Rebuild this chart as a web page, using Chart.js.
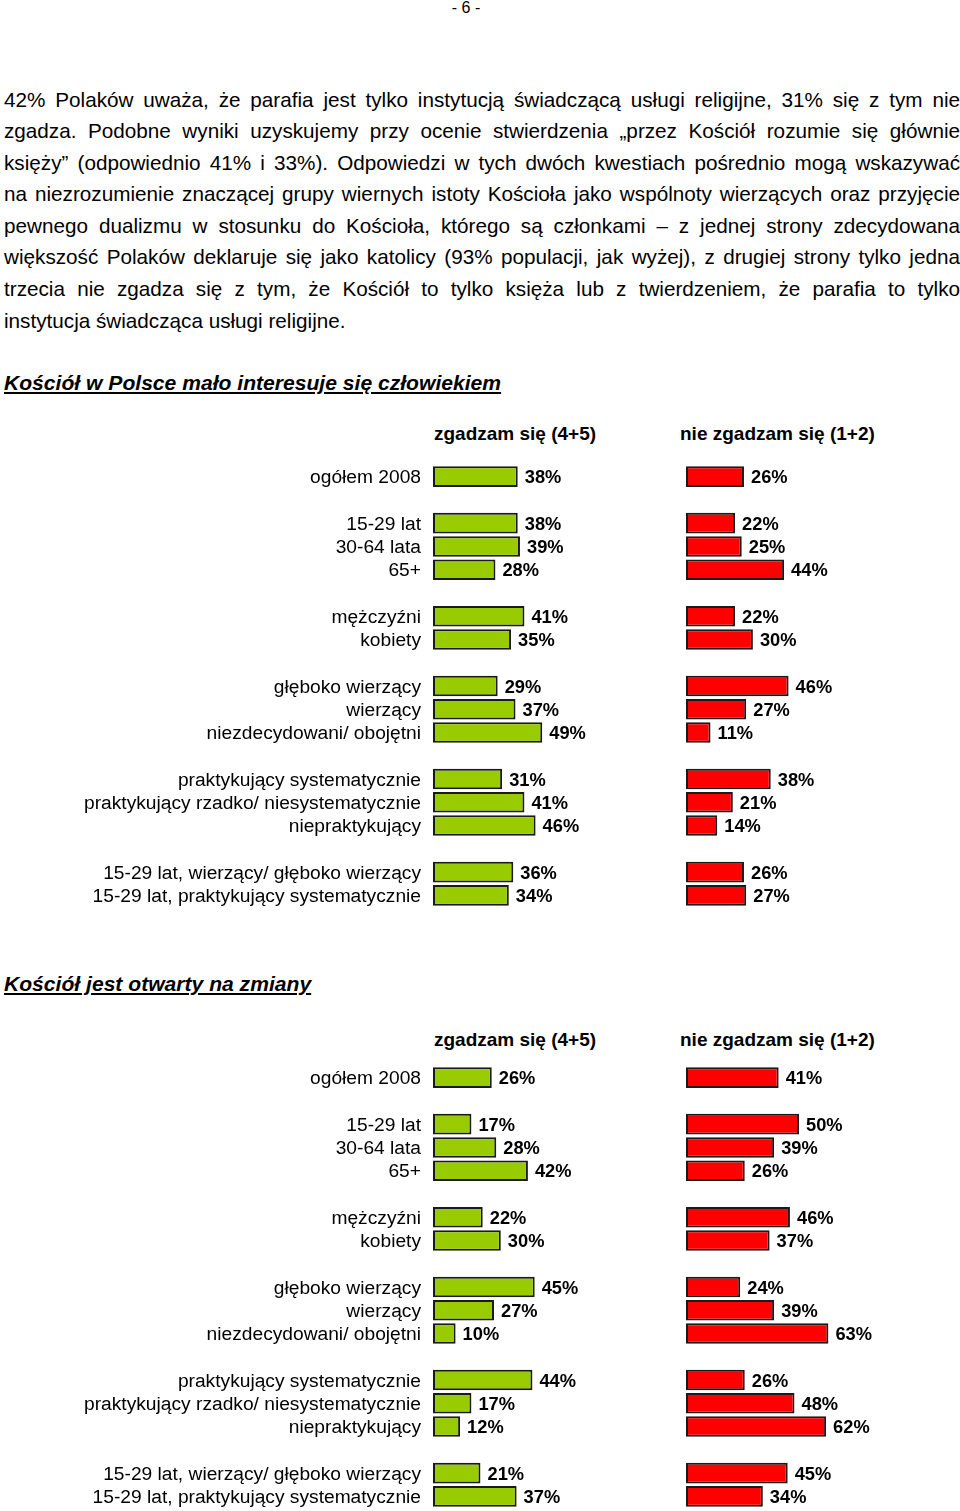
<!DOCTYPE html>
<html lang="pl">
<head>
<meta charset="utf-8">
<title>Kościół - wykresy</title>
<script src="https://cdn.jsdelivr.net/npm/chart.js@4"></script>
<style>
  body{margin:0;background:#fff;font-family:"Liberation Sans",Arial,sans-serif;color:#000}
  #page{position:relative;width:960px;height:1511px;overflow:hidden}
  .abs{position:absolute;white-space:nowrap;line-height:1}
  #pnum{left:0;width:932px;text-align:center;top:0;font-size:16px}
  #txt{position:absolute;left:4px;top:83.5px;width:956px;font-size:20.7px;line-height:31.6px}
  #txt div{white-space:nowrap;text-align:justify;text-align-last:justify}
  #txt div.last{text-align-last:left}
  .head{font-size:21.1px;font-weight:bold;font-style:italic;text-decoration:underline;left:4px}
  .col{font-size:19px;font-weight:bold}
  canvas{position:absolute}
</style>
</head>
<body>
<div id="page">
  <div id="pnum" class="abs">- 6 -</div>
  <div id="txt">
    <div>42% Polaków uważa, że parafia jest tylko instytucją świadczącą usługi religijne, 31% się z tym nie</div>
    <div>zgadza. Podobne wyniki uzyskujemy przy ocenie stwierdzenia „przez Kościół rozumie się głównie</div>
    <div>księży” (odpowiednio 41% i 33%). Odpowiedzi w tych dwóch kwestiach pośrednio mogą wskazywać</div>
    <div>na niezrozumienie znaczącej grupy wiernych istoty Kościoła jako wspólnoty wierzących oraz przyjęcie</div>
    <div>pewnego dualizmu w stosunku do Kościoła, którego są członkami – z jednej strony zdecydowana</div>
    <div>większość Polaków deklaruje się jako katolicy (93% populacji, jak wyżej), z drugiej strony tylko jedna</div>
    <div>trzecia nie zgadza się z tym, że Kościół to tylko księża lub z twierdzeniem, że parafia to tylko</div>
    <div class="last">instytucja świadcząca usługi religijne.</div>
  </div>

  <div class="abs head" style="top:372px">Kościół w Polsce mało interesuje się człowiekiem</div>
  <div class="abs col" style="left:434px;top:424px">zgadzam się (4+5)</div>
  <div class="abs col" style="left:680px;top:424px">nie zgadzam się (1+2)</div>
  <canvas id="c1a" width="680" height="442" style="left:0;top:465px"></canvas>
  <canvas id="c1b" width="274" height="442" style="left:686px;top:465px"></canvas>

  <div class="abs head" style="top:973px">Kościół jest otwarty na zmiany</div>
  <div class="abs col" style="left:434px;top:1030px">zgadzam się (4+5)</div>
  <div class="abs col" style="left:680px;top:1030px">nie zgadzam się (1+2)</div>
  <canvas id="c2a" width="680" height="442" style="left:0;top:1066px"></canvas>
  <canvas id="c2b" width="274" height="442" style="left:686px;top:1066px"></canvas>
</div>
<script>
// groups of rows, separated by an empty row
const groupSizes = [1, 3, 2, 3, 3, 2];
const categories = [
  'ogółem 2008',
  '15-29 lat', '30-64 lata', '65+',
  'mężczyźni', 'kobiety',
  'głęboko wierzący', 'wierzący', 'niezdecydowani/ obojętni',
  'praktykujący systematycznie', 'praktykujący rzadko/ niesystematycznie', 'niepraktykujący',
  '15-29 lat, wierzący/ głęboko wierzący', '15-29 lat, praktykujący systematycznie'
];

// Kościół w Polsce mało interesuje się człowiekiem
const interesAgree    = [38, 38, 39, 28, 41, 35, 29, 37, 49, 31, 41, 46, 36, 34];
const interesDisagree = [26, 22, 25, 44, 22, 30, 46, 27, 11, 38, 21, 14, 26, 27];

// Kościół jest otwarty na zmiany
const zmianyAgree    = [26, 17, 28, 42, 22, 30, 45, 27, 10, 44, 17, 12, 21, 37];
const zmianyDisagree = [41, 50, 39, 26, 46, 37, 24, 39, 63, 26, 48, 62, 45, 34];

const GREEN = '#99cc00', RED = '#ff0000', EDGE = '#1a1a1a';
const FONT = '"Liberation Sans", Arial, sans-serif';

// put an empty slot between groups
function withGaps(arr, empty){
  const out = [];
  let k = 0;
  groupSizes.forEach((n, g) => {
    if(g > 0) out.push(empty);
    for(let i = 0; i < n; i++) out.push(arr[k++]);
  });
  return out;
}

const valueLabels = {
  id: 'valueLabels',
  afterDatasetsDraw(chart){
    const ctx = chart.ctx;
    const data = chart.data.datasets[0].data;
    ctx.save();
    ctx.font = 'bold 18.3px ' + FONT;
    ctx.fillStyle = '#000';
    ctx.textBaseline = 'middle';
    chart.getDatasetMeta(0).data.forEach((bar, i) => {
      if(data[i] == null) return;
      ctx.fillText(data[i] + '%', bar.x + 7, bar.y + 1.5);
    });
    ctx.restore();
  }
};

function makeChart(id, values, color, showLabels, plotWidth){
  const canvas = document.getElementById(id);
  const left = showLabels ? 433 : 0;
  return new Chart(canvas, {
    type: 'bar',
    data: {
      labels: withGaps(categories, ''),
      datasets: [{
        data: withGaps(values, null),
        backgroundColor: color,
        borderColor: EDGE,
        borderWidth: 2,
        borderSkipped: false,
        barPercentage: 0.885,
        categoryPercentage: 1
      }]
    },
    options: {
      indexAxis: 'y',
      responsive: false,
      devicePixelRatio: 1,
      animation: false,
      layout: {autoPadding: false, padding: {left: 0, right: canvas.width - left - plotWidth, top: 0, bottom: 0}},
      plugins: {legend: {display: false}, tooltip: {enabled: false}, title: {display: false}},
      scales: {
        x: {display: false, min: 0, max: 100},
        y: {
          display: showLabels,
          grid: {display: false, drawTicks: false},
          border: {display: false},
          ticks: {color: '#000', font: {size: 19.2, family: FONT}, padding: 12, autoSkip: false, labelOffset: 1.5},
          afterFit(scale){
            scale.width = left;
            scale.paddingTop = 0;
            scale.paddingBottom = 0;
          }
        }
      }
    },
    plugins: [valueLabels]
  });
}

makeChart('c1a', interesAgree, GREEN, true, 223);
makeChart('c1b', interesDisagree, RED, false, 223);
makeChart('c2a', zmianyAgree, GREEN, true, 226);
makeChart('c2b', zmianyDisagree, RED, false, 226);
</script>
</body>
</html>
